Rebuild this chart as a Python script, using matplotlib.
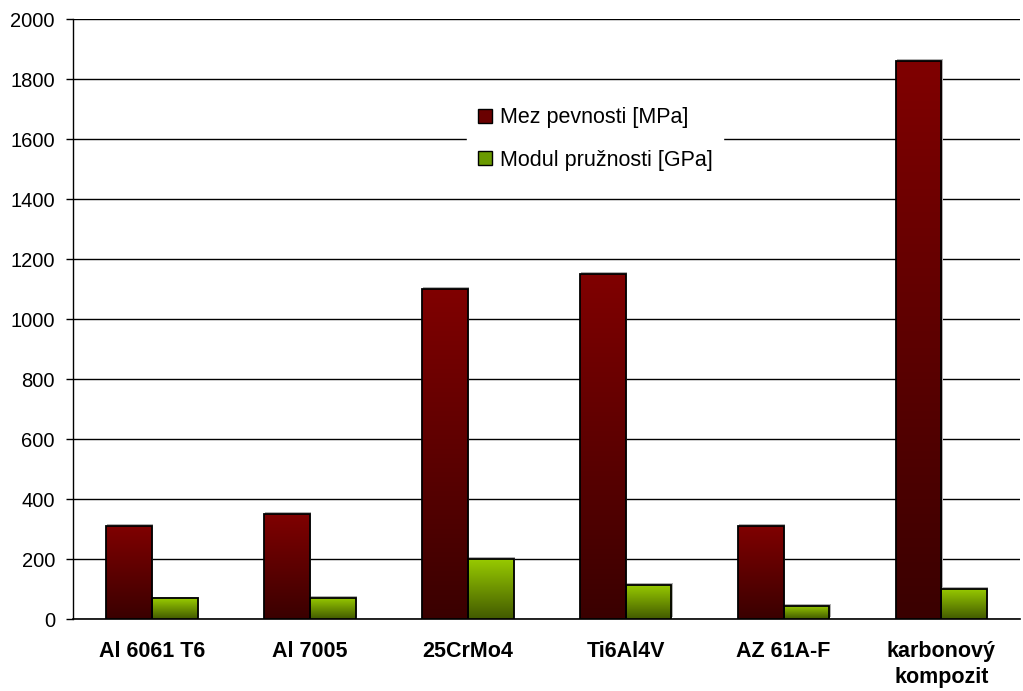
import matplotlib
matplotlib.use("Agg")
import matplotlib.pyplot as plt
import numpy as np
from matplotlib.colors import LinearSegmentedColormap
from matplotlib.patches import Patch

plt.rcParams['font.family'] = ['Liberation Sans', 'DejaVu Sans']

materialy = ["Al 6061 T6", "Al 7005", "25CrMo4", "Ti6Al4V", "AZ 61A-F", "karbonový\nkompozit"]
mez_pevnosti = [310, 350, 1100, 1150, 310, 1860]
modul_pruznosti = [69, 72, 200, 114, 45, 100]

cm_red = LinearSegmentedColormap.from_list("red", ["#3a0000", "#800000"])
cm_green = LinearSegmentedColormap.from_list("green", ["#425a00", "#99cc00"])


def gradient_bars(ax, x, h, w, cmap):
    bars = ax.bar(x, h, w, color="none", edgecolor="black", linewidth=1.3, zorder=4)
    grad = np.linspace(0, 1, 256).reshape(-1, 1)
    for b in bars:
        x0 = b.get_x()
        hh = b.get_height()
        # jemny stin za sloupcem
        ax.bar(x0 + w / 2 + 0.008, hh, w, bottom=6, color="#b0b0b0", linewidth=0, zorder=2)
        im = ax.imshow(grad, cmap=cmap, origin="lower", aspect="auto",
                       extent=[x0, x0 + w, 0, hh], zorder=3)
        im.set_clip_path(b)
    return bars


fig = plt.figure(figsize=(10.23, 6.91), dpi=100)
ax = fig.add_axes([0.0714, 0.104, 0.926, 0.8685])

x = np.arange(len(materialy))
w = 0.29
gradient_bars(ax, x - w / 2, mez_pevnosti, w, cm_red)
gradient_bars(ax, x + w / 2, modul_pruznosti, w, cm_green)

ax.set_xlim(-0.5, len(materialy) - 0.5)
ax.set_ylim(0, 2000)
ax.set_yticks(np.arange(0, 2001, 200))
ax.yaxis.grid(True, color="black", linewidth=1)
ax.set_axisbelow(True)
for s in ["top", "right"]:
    ax.spines[s].set_visible(False)
ax.spines["left"].set_linewidth(1)
ax.spines["bottom"].set_linewidth(1.2)
ax.tick_params(axis="y", labelsize=14.5, length=5, width=1, pad=8)
ax.tick_params(axis="x", length=0, pad=16)
ax.set_xticks(x)
ax.set_xticklabels(materialy, fontsize=15.5, fontweight="bold", linespacing=1.3)

handles = [Patch(facecolor="#6a0000", edgecolor="black", label="Mez pevnosti [MPa]"),
           Patch(facecolor="#6a9a00", edgecolor="black", label="Modul pružnosti [GPa]")]
leg = ax.legend(handles=handles, loc="center left", bbox_to_anchor=(0.4163, 0.8),
                fontsize=15.5, frameon=True, fancybox=False, edgecolor="white",
                handlelength=0.65, handleheight=0.65, handletextpad=0.35,
                labelspacing=1.0, borderpad=0.5, borderaxespad=0, framealpha=1)
leg.set_zorder(6)

fig.savefig("out.png", dpi=100)
